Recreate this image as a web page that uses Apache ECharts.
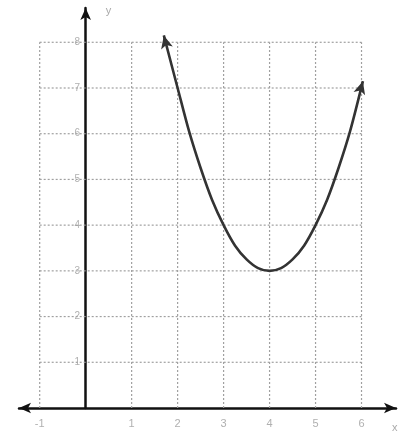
<!DOCTYPE html>
<html>
<head>
<meta charset="utf-8">
<script src="https://cdn.jsdelivr.net/npm/echarts@6/dist/echarts.min.js"></script>
<style>html,body{margin:0;padding:0;background:#fff}#c{width:403px;height:446px}</style>
</head>
<body>
<div id="c"></div>
<script>
// grid tick values
var xTicks = [-1, 1, 2, 3, 4, 5, 6];
var yTicks = [1, 2, 3, 4, 5, 6, 7, 8];
var gridXs = [-1, 1, 2, 3, 4, 5, 6];
var gridYs = [1, 2, 3, 4, 5, 6, 7, 8];
var gridXmin = -1, gridXmax = 6, gridYmin = 0, gridYmax = 8;
// curve points
var curveX = [1.7, 2, 2.25, 2.5, 2.75, 3, 3.25, 3.5, 3.75, 4, 4.25, 4.5, 4.75, 5, 5.25, 5.5, 5.75, 6.03];
var curveY = [8.15, 7, 6.05, 5.25, 4.55, 4, 3.55, 3.25, 3.06, 3, 3.06, 3.25, 3.55, 4, 4.55, 5.25, 6.05, 7.15];

var series = [];
gridXs.forEach(function (k) {
  series.push({type: 'line', silent: true, symbol: 'none', z: 1,
    data: [[k, gridYmin], [k, gridYmax]],
    lineStyle: {color: '#a0a0a0', width: 1.2, type: [2, 2]}});
});
gridYs.forEach(function (k) {
  series.push({type: 'line', silent: true, symbol: 'none', z: 1,
    data: [[gridXmin, k], [gridXmax, k]],
    lineStyle: {color: '#a0a0a0', width: 1.2, type: [2, 2]}});
});
var n = curveX.length;
var curveData = curveX.map(function (x, i) {
  var d = {value: [x, curveY[i]], symbol: 'none'};
  if (i === 0) { d.symbol = 'arrow'; d.symbolRotate = 14; d.symbolSize = [9, 13]; }
  if (i === n - 1) { d.symbol = 'arrow'; d.symbolRotate = -16; d.symbolSize = [9, 13]; }
  return d;
});
series.push({type: 'line', smooth: 0.3, z: 5, data: curveData,
  showSymbol: true,
  itemStyle: {color: '#333'},
  lineStyle: {color: '#333', width: 2.6}});

var chart = echarts.init(document.getElementById('c'));
chart.setOption({
  animation: false,
  grid: {left: 19, right: 7, top: 8, bottom: 38},
  xAxis: {type: 'value', min: -1.45, max: 6.75,
    name: 'x', nameGap: -4, nameLocation: 'end',
    nameTextStyle: {color: '#aaa', fontSize: 11, verticalAlign: 'top', padding: [14, 0, 0, 0]},
    splitLine: {show: false},
    axisTick: {show: false},
    axisLine: {onZero: true, symbol: ['arrow', 'arrow'], symbolSize: [8, 12],
      lineStyle: {color: '#111', width: 2.5}},
    axisLabel: {customValues: xTicks, color: '#b0b0b0', fontSize: 11, margin: 10}
  },
  yAxis: {type: 'value', min: 0, max: 8.75,
    name: 'y', nameLocation: 'end', nameGap: -8,
    nameTextStyle: {color: '#aaa', fontSize: 11, align: 'left', padding: [0, 0, 0, 20]},
    splitLine: {show: false},
    axisTick: {show: false},
    axisLine: {onZero: true, symbol: ['none', 'arrow'], symbolSize: [8, 12],
      lineStyle: {color: '#111', width: 2.5}},
    axisLabel: {customValues: yTicks, color: '#b0b0b0', fontSize: 10, margin: -61}
  },
  series: series
});
</script>
</body>
</html>
